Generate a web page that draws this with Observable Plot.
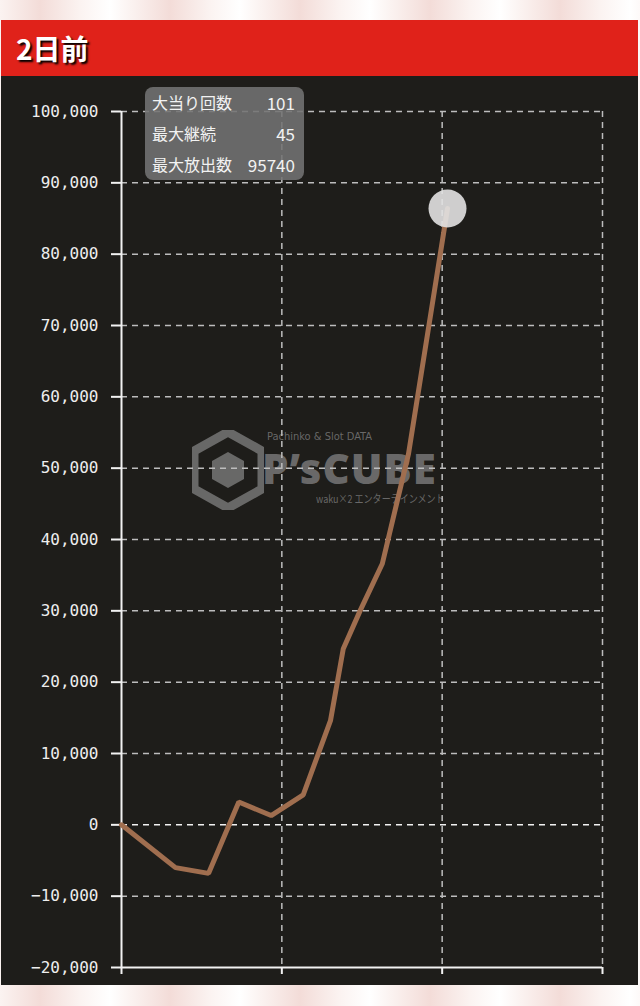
<!DOCTYPE html>
<html>
<head>
<meta charset="utf-8">
<script src="https://cdn.jsdelivr.net/npm/d3@7"></script>
<script src="https://cdn.jsdelivr.net/npm/@observablehq/plot@0.6"></script>
<style>
  html, body { margin: 0; padding: 0; }
  body { width: 640px; height: 1006px; position: relative; overflow: hidden;
         background: repeating-linear-gradient(90deg, #fbf3f1 0px, #f3dcd8 40px, #fbf3f1 80px, #ffffff 110px, #fbf3f1 130px); }
  #header { position: absolute; left: 1px; top: 20px; width: 637px; height: 56px; background: #e0221a; }
  #header span { position: absolute; left: 15px; top: 8px; font-family: "Noto Sans CJK JP", sans-serif; font-weight: 700;
                 font-size: 28px; color: #fff; text-shadow: 2px 2px 2px #000; line-height: 40px; }
  #panel { position: absolute; left: 1px; top: 76px; width: 637px; height: 909px; background: #1e1d1a; }
  #wm { position: absolute; left: 190px; top: 428px; width: 270px; height: 85px; color: rgba(130,130,130,0.75); white-space: nowrap; }
  #wm div { position: absolute; line-height: 1; }
  #wm .small { left: 77px; top: 3px; font-family: "DejaVu Sans Condensed", sans-serif; font-size: 11px; height: 12px; }
  #wm .big { left: 72px; top: 22px; font-family: "Noto Sans", sans-serif; font-weight: 900; font-size: 42px; line-height: 36px; height: 36px; letter-spacing: 1px; }
  #wm .sub { left: 126px; top: 65px; font-family: "Noto Sans CJK JP", sans-serif; font-size: 11px; height: 12px; transform: scaleX(0.82); transform-origin: left center; }
  #chart { position: absolute; left: 0; top: 76px; }
  #tip { position: absolute; left: 145px; top: 87px; width: 159px; height: 93px; background: rgba(115,115,115,0.88);
         border-radius: 8px; font-family: "Noto Sans CJK JP", sans-serif; font-size: 16px; color: #f2f2f2; }
  #tip .row { position: relative; height: 31px; line-height: 31px; }
  #tip .k { position: absolute; left: 7px; }
  #tip .v { position: absolute; right: 9px; font-size: 17px; }
</style>
</head>
<body>
<div id="header"><span>2日前</span></div>
<div id="panel"></div>
<div id="wm">
  <svg width="72" height="80" style="position:absolute;left:2px;top:2px">
    <polygon points="36,2 70,21 70,59 36,78 2,59 2,21" fill="none" stroke="rgba(130,130,130,0.75)" stroke-width="9"/>
    <polygon points="36,22 52,31 52,49 36,58 20,49 20,31" fill="rgba(130,130,130,0.75)"/>
  </svg>
  <div class="small">Pachinko &amp; Slot DATA</div>
  <div class="big">P’sCUBE</div>
  <div class="sub">waku×2 エンターテインメント</div>
</div>
<div id="chart"></div>
<div id="tip"></div>
<script>
// Data
const games = [0, 1010, 1630, 2195, 2800, 3400, 3910, 4150, 4470, 4880, 5370, 6100];
const balance = [0, -6000, -6800, 3200, 1300, 4200, 14600, 24700, 30100, 36600, 52000, 86400];
const yTicks = [-20000, -10000, 0, 10000, 20000, 30000, 40000, 50000, 60000, 70000, 80000, 90000, 100000];
const xTicks = [0, 3000, 6000, 9000];
const statLabels = ["大当り回数", "最大継続", "最大放出数"];
const statValues = ["101", "45", "95740"];

const data = games.map((g, i) => ({g, v: balance[i]}));
const last = [data[data.length - 1]];

const gridStyle = {stroke: "#bdbdbd", strokeWidth: 1.5, strokeDasharray: "6,5"};

const chart = Plot.plot({
  width: 640,
  height: 909,
  marginLeft: 121,
  marginRight: 38,
  marginTop: 35,
  marginBottom: 18,
  x: {domain: [0, 9000]},
  y: {domain: [-20000, 100000]},
  style: {background: "transparent", color: "#eeeeee", fontFamily: "DejaVu Sans Mono, monospace", fontSize: "16px"},
  marks: [
    Plot.ruleY(yTicks.filter(d => d !== -20000 && d !== 0), gridStyle),
    Plot.ruleY([0], {stroke: "#f2f2f2", strokeWidth: 1.5, strokeDasharray: "6,5"}),
    Plot.ruleX(xTicks.filter(d => d !== 0), gridStyle),
    Plot.axisY({ticks: yTicks, tickFormat: d3.format(","), tickSize: 10, tickPadding: 13, stroke: "#f2f2f2", strokeWidth: 2, fill: "#eeeeee", fontSize: 16, label: null}),
    Plot.axisX({ticks: xTicks, tickFormat: () => "", tickSize: 7, stroke: "#f2f2f2", strokeWidth: 2, label: null}),
    Plot.ruleX([0], {stroke: "#f2f2f2", strokeWidth: 2}),
    Plot.ruleY([-20000], {stroke: "#f2f2f2", strokeWidth: 2}),
    Plot.line(data, {x: "g", y: "v", stroke: "#a06e4f", strokeWidth: 5, strokeLinejoin: "miter"}),
    Plot.dot(last, {x: "g", y: "v", r: 19, fill: "#e2e2e2", fillOpacity: 0.9, stroke: "none"})
  ]
});
document.getElementById("chart").appendChild(chart);

const tip = document.getElementById("tip");
statLabels.forEach((k, i) => {
  const row = document.createElement("div");
  row.className = "row";
  row.innerHTML = `<span class="k">${k}</span><span class="v">${statValues[i]}</span>`;
  tip.appendChild(row);
});
</script>
</body>
</html>
